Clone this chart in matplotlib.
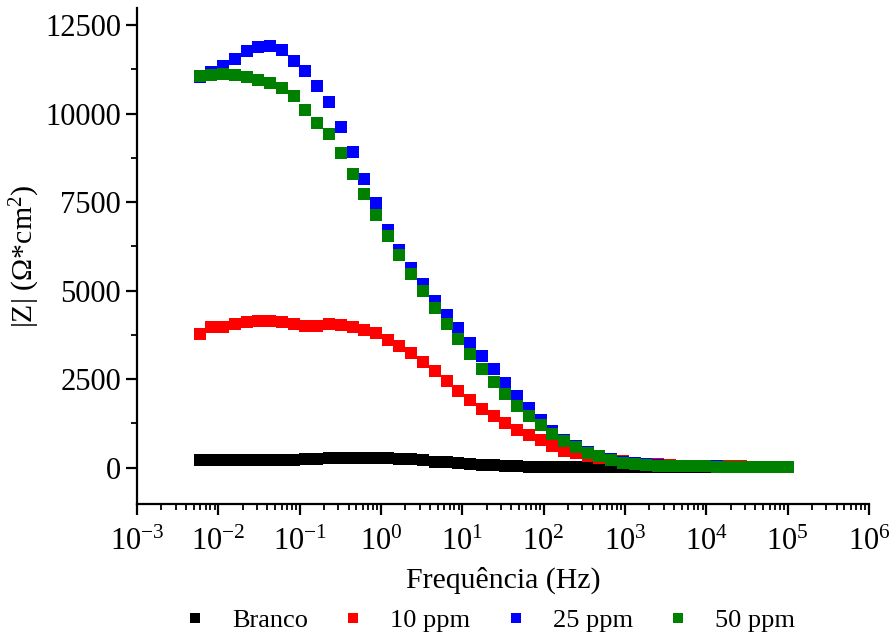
import numpy as np
import matplotlib
matplotlib.use("Agg")
import matplotlib.pyplot as plt
from matplotlib.ticker import FixedLocator, LogLocator, FuncFormatter, NullFormatter

plt.rcParams['font.family'] = ['Liberation Serif', 'DejaVu Serif']
plt.rcParams['mathtext.fontset'] = 'custom'
plt.rcParams['mathtext.rm'] = 'Liberation Serif'
plt.rcParams['mathtext.it'] = 'Liberation Serif:italic'

# frequency (Hz), about 7 points per decade
freq = [0.00589, 0.00822, 0.01146, 0.0160, 0.0223, 0.0311, 0.0434, 0.0605, 0.0845, 0.118,
        0.164, 0.229, 0.320, 0.447, 0.623, 0.869, 1.21, 1.69, 2.36, 3.29,
        4.59, 6.41, 8.94, 12.5, 17.4, 24.3, 33.9, 47.2, 65.9, 91.9,
        128, 179, 249, 348, 485, 677, 946, 1318, 1841, 2566,
        3581, 5000, 6966, 9727, 13550, 18920, 26420, 36810, 51400, 71610, 100000]

# |Z| values
branco = [215, 208, 205, 205, 207, 210, 212, 215, 220, 228, 240, 268, 276, 280, 280, 276, 266, 250, 228, 200,
          170, 143, 120, 98, 75, 58, 44, 33, 26, 21, 18, 16, 15, 14, 13, 13, 12, 12, 12, 11,
          11, 11, 11, 11, 11, 11, 11, 11, 11, 11, 11]
ppm10 = [3780, 3970, 3970, 4055, 4120, 4150, 4150, 4100, 4045, 4005, 3995, 4045, 4015, 3970, 3895, 3800, 3615, 3425, 3245, 2975,
         2720, 2445, 2160, 1905, 1655, 1450, 1260, 1070, 925, 790, 620, 480, 400, 335, 280, 228, 180, 140, 110, 86,
         68, 55, 46, 40, 35, 32, 30, 28, 27, 26, 26]
ppm25 = [11030, 11180, 11350, 11550, 11770, 11890, 11915, 11790, 11490, 11210, 10780, 10330, 9610, 8910, 8145, 7460, 6720, 6150, 5640, 5195,
         4695, 4300, 3930, 3525, 3160, 2780, 2390, 2025, 1670, 1330, 1045, 790, 615, 445, 335, 245, 170, 120, 88, 66,
         52, 43, 37, 33, 30, 28, 27, 26, 25, 25, 24]
ppm50 = [11060, 11085, 11120, 11085, 11040, 10960, 10850, 10710, 10500, 10100, 9720, 9420, 8890, 8300, 7740, 7130, 6550, 6010, 5475, 4990,
         4510, 4065, 3630, 3195, 2790, 2420, 2065, 1730, 1450, 1190, 940, 745, 570, 422, 318, 215, 140, 95, 70, 55,
         45, 38, 33, 30, 28, 26, 25, 24, 24, 23, 23]

labels = ['Branco', '10 ppm', '25 ppm', '50 ppm']
colors = ['#000000', '#ff0000', '#0000ff', '#008000']

fig = plt.figure(figsize=(8.93, 6.37), dpi=100)
ax = fig.add_axes([0.1534, 0.2088, 0.8196, 0.7786])

for ys, lab, c in zip([branco, ppm10, ppm25, ppm50], labels, colors):
    ax.plot(freq, ys, linestyle='none', marker='s', markersize=8.8,
            markeredgewidth=0, color=c, label=lab)

ax.set_xscale('log')
ax.set_xlim(1e-3, 1e6)
ax.set_ylim(-1030, 12980)

ax.xaxis.set_major_locator(LogLocator(base=10, numticks=20))
ax.xaxis.set_minor_locator(LogLocator(base=10, subs=np.arange(2, 10), numticks=20))
ax.xaxis.set_major_formatter(FuncFormatter(lambda v, p: r'$\mathregular{10^{%d}}$' % round(np.log10(v))))
ax.xaxis.set_minor_formatter(NullFormatter())

ax.yaxis.set_major_locator(FixedLocator([0, 2500, 5000, 7500, 10000, 12500]))
ax.yaxis.set_minor_locator(FixedLocator([1250, 3750, 6250, 8750, 11250]))

for s in ['top', 'right']:
    ax.spines[s].set_visible(False)
for s in ['left', 'bottom']:
    ax.spines[s].set_linewidth(1.6)

ax.tick_params(which='major', direction='out', length=8, width=1.6, labelsize=22)
ax.tick_params(which='minor', direction='out', length=4.5, width=1.3)
ax.tick_params(axis='x', pad=9)

ax.set_xlabel('Frequência (Hz)', fontsize=21.5, labelpad=7)
ax.set_ylabel(r'|Z| ($\Omega$*cm$^{2}$)', fontsize=21.5, labelpad=2)

fig.legend(loc='lower center', bbox_to_anchor=(0.547, -0.03), ncol=4, frameon=False,
           fontsize=19, markerscale=0.85, handlelength=1.0, handletextpad=0.9,
           columnspacing=1.22)

fig.savefig('out.png', dpi=100)
